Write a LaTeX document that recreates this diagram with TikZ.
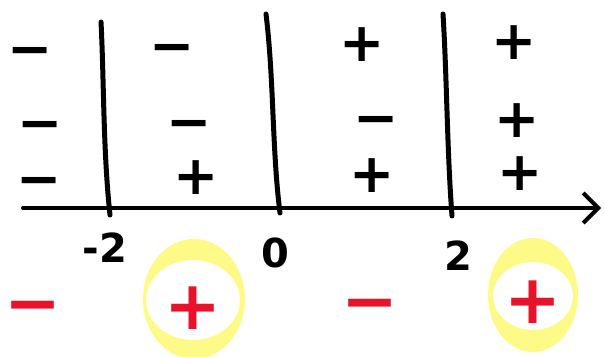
\documentclass[tikz,border=0pt]{standalone}
\usepackage{fontspec}
\setmainfont{DejaVu Sans}
\usetikzlibrary{arrows.meta}
\definecolor{signred}{RGB}{232,18,42}
\definecolor{hiyellow}{RGB}{253,250,135}
\tikzset{
  pen/.style={line width=5pt, line cap=round, line join=round, black},
  sgn/.style={inner sep=0pt, text height=39pt, text depth=0pt, font=\bfseries\fontsize{54}{54}\selectfont},
  rsgn/.style={inner sep=0pt, text height=49pt, text depth=0pt, font=\bfseries\fontsize{68}{68}\selectfont, text=signred},
  lbl/.style={inner sep=0pt, font=\bfseries\fontsize{40}{40}\selectfont},
  ring/.style={fill=hiyellow, even odd rule}
}
\begin{document}
\begin{tikzpicture}[x=1pt,y=-1pt]
\useasboundingbox (0,0) rectangle (604,356);
% highlight rings
\fill[ring] (194,299) ellipse [x radius=51, y radius=60] (193,300) ellipse [x radius=47, y radius=40];
\fill[ring] (533,295) ellipse [x radius=45, y radius=57] (533,296) ellipse [x radius=40, y radius=34];
% axis
\coordinate (axL) at (23,208);
\coordinate (axR) at (601,208);
\draw[pen, line width=4pt, -{Straight Barb[length=15pt,width=30pt,line width=4pt]}] (axL) -- (axR);
% vertical lines
\coordinate (v1t) at (101,22);  \coordinate (v1b) at (110,215);
\coordinate (v2t) at (266,14);  \coordinate (v2b) at (280,213);
\coordinate (v3t) at (443,14);  \coordinate (v3b) at (452,216);
\draw[pen] (v1t) .. controls (104,80) and (103,150) .. (v1b);
\draw[pen] (v2t) .. controls (274,80) and (272,150) .. (v2b);
\draw[pen] (v3t) .. controls (447,80) and (447,150) .. (v3b);
% signs row 1
\node[sgn] (a1) at (30,48) {−};
\node[sgn] (b1) at (172,45) {−};
\node[sgn] (c1) at (362,42) {+};
\node[sgn] (d1) at (514,40) {+};
% row 2
\node[sgn] (a2) at (40,122) {−};
\node[sgn] (b2) at (189,121) {−};
\node[sgn] (c2) at (376,117) {−};
\node[sgn] (d2) at (517,118) {+};
% row 3
\node[sgn] (a3) at (39,178) {−};
\node[sgn] (b3) at (196,175) {+};
\node[sgn] (c3) at (372,173) {+};
\node[sgn] (d3) at (520,171) {+};
% labels
\node[lbl] (lm2) at (105,248) {-2};
\node[lbl] (l0) at (275,253) {0};
\node[lbl] (l2) at (458,256) {2};
% result row
\node[rsgn] (r1) at (33,302) {−};
\node[rsgn] (r2) at (193,305) {+};
\node[rsgn] (r3) at (370,300) {−};
\node[rsgn] (r4) at (533,299) {+};
\end{tikzpicture}
\end{document}
